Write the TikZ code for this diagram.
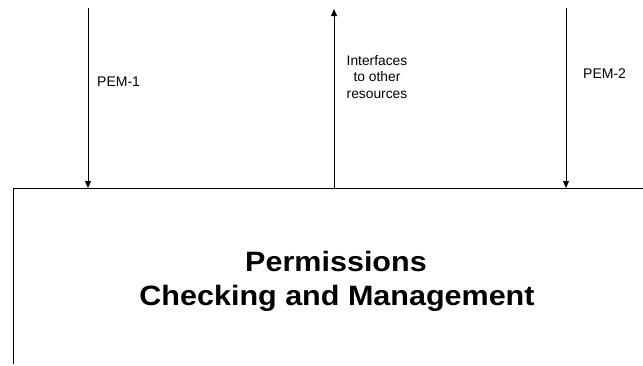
\documentclass[tikz,border=0pt]{standalone}
\usepackage{fontspec}
\setmainfont{Liberation Sans}
\usetikzlibrary{arrows.meta}
\begin{document}
\begin{tikzpicture}[x=1pt,y=-1pt,
  conn/.style={line width=1pt,-{Triangle[length=7pt,width=6pt]}},
  edge/.style={line width=1pt},
  lbl/.style={inner sep=0pt,anchor=base west,font=\fontsize{14}{16}\selectfont},
  lblc/.style={inner sep=0pt,align=center,anchor=north,font=\fontsize{13.8}{16.5}\selectfont},
  ttl/.style={inner sep=0pt,anchor=base,font=\fontsize{28}{33}\selectfont\bfseries}]
\useasboundingbox (0,0) rectangle (643,365);
% box (only top and left edges visible)
\coordinate (boxTR) at (643,188);
\coordinate (boxTL) at (13.5,188);
\coordinate (boxBL) at (13.5,364);
\draw[edge] (boxTR) -- (boxTL) -- (boxBL);
% arrow end points
\coordinate (a1s) at (88,8);
\coordinate (a1e) at (88,188);
\coordinate (a2s) at (334,188);
\coordinate (a2e) at (334,9);
\coordinate (a3s) at (566,8);
\coordinate (a3e) at (566,188);
\draw[conn] (a1s) -- (a1e);
\draw[conn] (a2s) -- (a2e);
\draw[conn] (a3s) -- (a3e);
% labels
\node[lbl] (pem1) at (97,86) {PEM-1};
\node[lbl] (pem2) at (583,78) {PEM-2};
\node[lblc] (intf) at (377,55) {Interfaces\\to other\\resources};
\node[ttl] (t1) at (336,271) {\scalebox{1.09}[1]{Permissions}};
\node[ttl] (t2) at (337,305) {\scalebox{1.09}[1]{Checking and Management}};
\end{tikzpicture}
\end{document}
